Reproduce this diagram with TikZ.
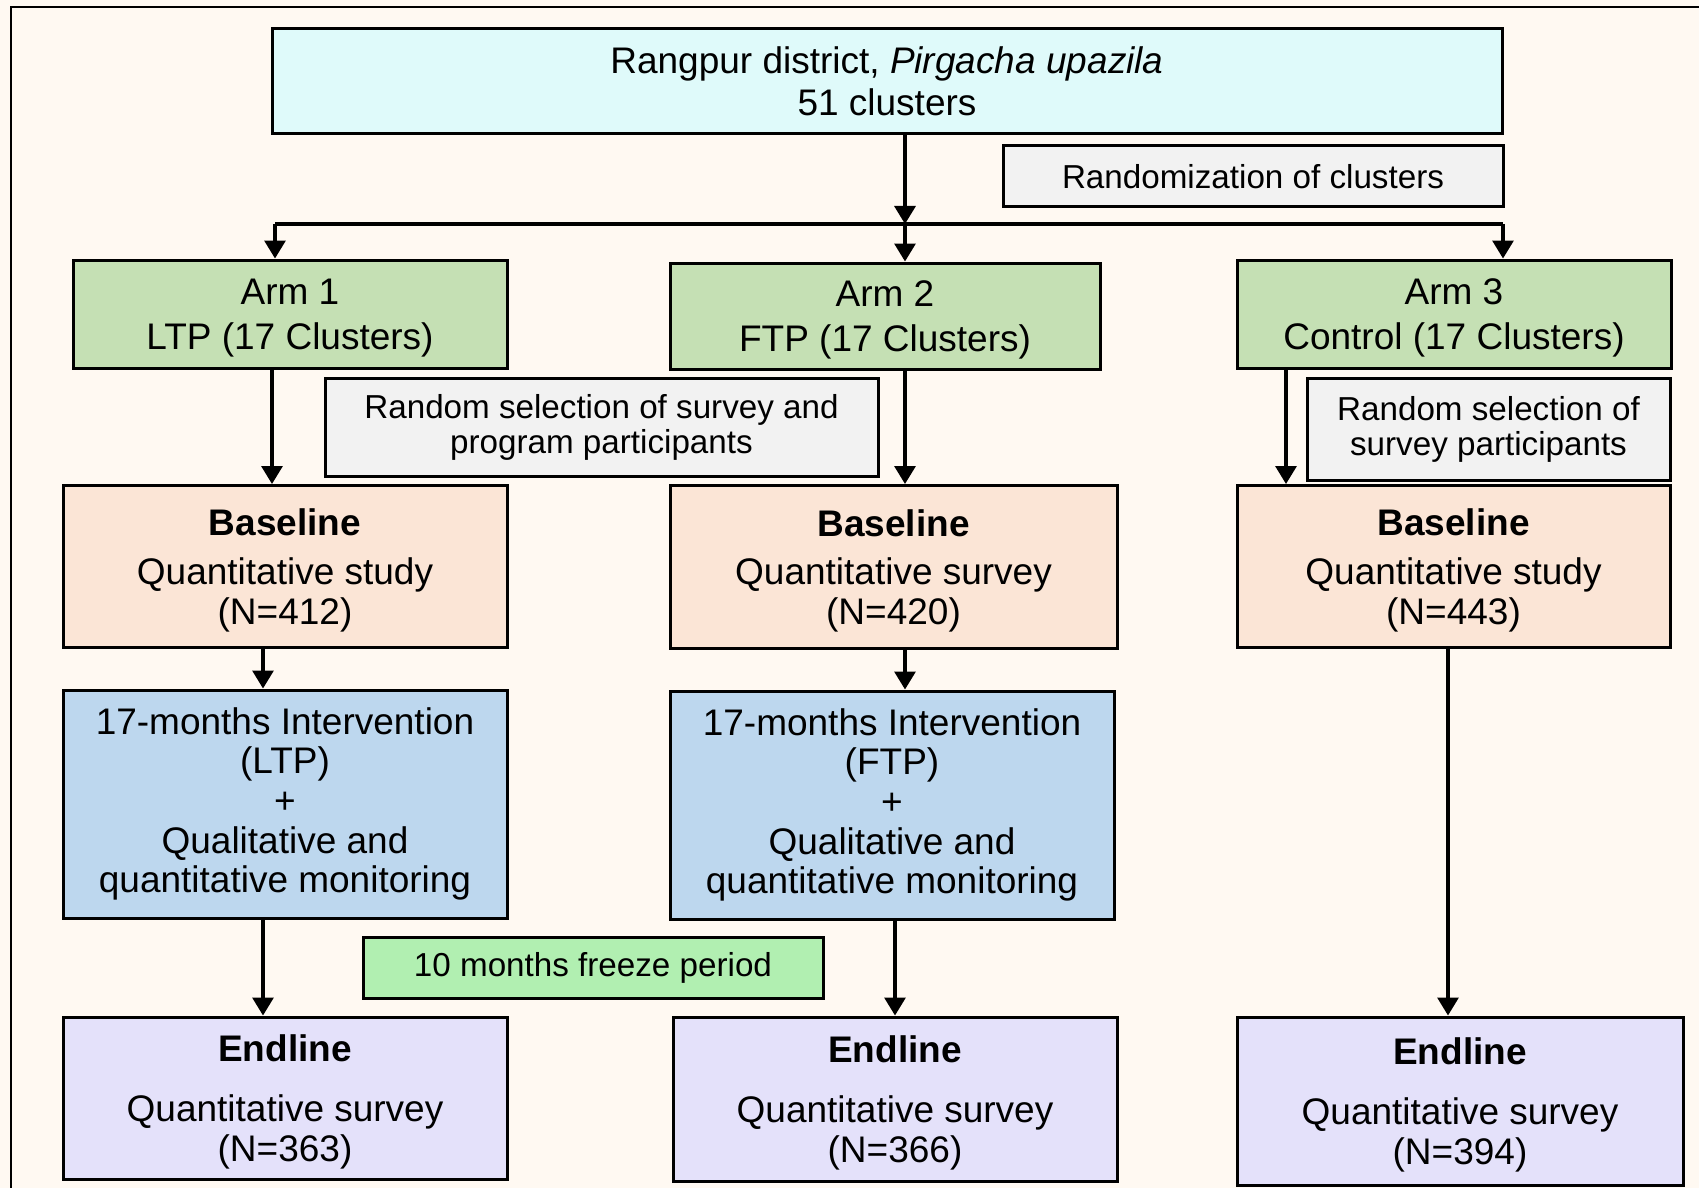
\documentclass[tikz,border=0pt]{standalone}
\usepackage{fontspec}
\setmainfont{Liberation Sans}
\usepackage{tikz}
\usetikzlibrary{arrows.meta,positioning}

\definecolor{bgcream}{HTML}{FFF9F2}
\definecolor{topcyan}{HTML}{DFFAFA}
\definecolor{notegray}{HTML}{F2F2F2}
\definecolor{armgreen}{HTML}{C5E0B4}
\definecolor{basepeach}{HTML}{FBE5D6}
\definecolor{intblue}{HTML}{BDD7EE}
\definecolor{freezegreen}{HTML}{B1EFB1}
\definecolor{endlilac}{HTML}{E4E1FA}

\tikzset{
  box/.style={draw, line width=1.5pt, align=center, inner sep=0pt,
    font=\fontsize{18.5}{19.8}\selectfont},
  stage/.style={box, text depth=0pt},
  note/.style={box, fill=notegray, font=\fontsize{16.6}{17.5}\selectfont},
  arr/.style={line width=1.6pt, -{Triangle[width=10.5pt,length=9pt]}},
}

\begin{document}
\begin{tikzpicture}[x=0.5pt, y=-0.5pt]
    % Page and frame
    \fill[bgcream] (0,0) rectangle (1699,1188);
    \useasboundingbox (0,0) rectangle (1699,1188);
    \draw[line width=0.8pt] (11,1188) -- (11,7) -- (1699,7);

    % District and randomization
    \node[stage, fill=topcyan, minimum width=615pt, minimum height=52.5pt, font=\fontsize{18.5}{21}\selectfont] (top) at (887,81.5) {Rangpur district, \textit{Pirgacha upazila}\\51 clusters};
    \node[note, minimum width=250pt, minimum height=30.5pt] (rand) at (1253,176.5) {Randomization of clusters};

    % Arms
    \node[stage, fill=armgreen, minimum width=217pt, minimum height=54pt, font=\fontsize{18.5}{22.5}\selectfont] (arm1) at (290,314) {Arm 1\\LTP (17 Clusters)};
    \node[stage, fill=armgreen, minimum width=215pt, minimum height=53pt, font=\fontsize{18.5}{22.5}\selectfont] (arm2) at (885,316) {Arm 2\\FTP (17 Clusters)};
    \node[stage, fill=armgreen, minimum width=217pt, minimum height=54pt, font=\fontsize{18.5}{22.5}\selectfont] (arm3) at (1454,314) {Arm 3\\Control (17 Clusters)};

    % Participant selection
    \node[note, minimum width=276.5pt, minimum height=49pt] (sel1) at (601.5,427) {Random selection of survey and\\program participants};
    \node[note, minimum width=181.5pt, minimum height=51pt] (sel3) at (1488.5,429) {Random selection of\\survey participants};

    % Baseline
    \node[stage, fill=basepeach, minimum width=222pt, minimum height=81pt] (base1) at (285,566.5) {\textbf{Baseline}\\[4.5pt]Quantitative study\\(N=412)};
    \node[stage, fill=basepeach, minimum width=223.5pt, minimum height=81.5pt] (base2) at (893.5,567) {\textbf{Baseline}\\[4.5pt]Quantitative survey\\(N=420)};
    \node[stage, fill=basepeach, minimum width=216.5pt, minimum height=81pt] (base3) at (1453.5,566.5) {\textbf{Baseline}\\[4.5pt]Quantitative study\\(N=443)};

    % Intervention
    \node[box, fill=intblue, minimum width=222pt, minimum height=114pt] (int1) at (285,804) {17-months Intervention\\(LTP)\\+\\Qualitative and\\quantitative monitoring};
    \node[box, fill=intblue, minimum width=222pt, minimum height=114pt] (int2) at (892,805) {17-months Intervention\\(FTP)\\+\\Qualitative and\\quantitative monitoring};
    \node[box, fill=freezegreen, minimum width=230pt, minimum height=30.5pt, font=\fontsize{16.6}{17.5}\selectfont] (freeze) at (593,967.5) {10 months freeze period};

    % Endline
    \node[stage, fill=endlilac, minimum width=222pt, minimum height=81pt] (end1) at (285,1098) {\textbf{Endline}\\[10pt]Quantitative survey\\(N=363)};
    \node[stage, fill=endlilac, minimum width=222pt, minimum height=82pt] (end2) at (895,1099) {\textbf{Endline}\\[10pt]Quantitative survey\\(N=366)};
    \node[stage, fill=endlilac, minimum width=223pt, minimum height=84pt] (end3) at (1460,1101) {\textbf{Endline}\\[10pt]Quantitative survey\\(N=394)};

    % Branching
    \coordinate (split) at (905,224);
    \coordinate (brL) at (275,224);
    \coordinate (brR) at (1503,224);
    \draw[arr] (split |- top.south) -- (split);
    \draw[line width=1.6pt] (brL) -- (brR);
    \draw[arr] (brL) -- (brL |- arm1.north);
    \draw[arr] (split) -- (split |- arm2.north);
    \draw[arr] (brR) -- (brR |- arm3.north);

    % Columns of arrows
    \coordinate (colA) at (272,0);
    \coordinate (colB) at (263,0);
    \coordinate (colC) at (895,0);
    \coordinate (colD) at (1286,0);
    \coordinate (colE) at (1448,0);
    \draw[arr] (colA |- arm1.south) -- (colA |- base1.north);
    \draw[arr] (colB |- base1.south) -- (colB |- int1.north);
    \draw[arr] (colB |- int1.south) -- (colB |- end1.north);
    \draw[arr] (split |- arm2.south) -- (split |- base2.north);
    \draw[arr] (split |- base2.south) -- (split |- int2.north);
    \draw[arr] (colC |- int2.south) -- (colC |- end2.north);
    \draw[arr] (colD |- arm3.south) -- (colD |- base3.north);
    \draw[arr] (colE |- base3.south) -- (colE |- end3.north);
\end{tikzpicture}
\end{document}
